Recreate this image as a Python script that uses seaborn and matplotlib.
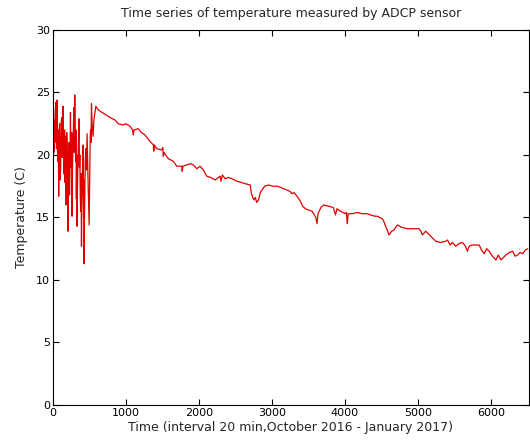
import numpy as np
import pandas as pd
import matplotlib
matplotlib.use("Agg")
import matplotlib.pyplot as plt
import seaborn as sns

# ======================
# Datos (índice de tiempo, temperatura en C)
# ======================
tiempo_ruido = [0, 6, 12, 18, 25, 32, 40, 48, 55, 60, 65, 72, 78, 84, 90, 97, 105,
                112, 120, 128, 137, 143, 150, 155, 160, 165, 172, 180, 188, 195,
                200, 206, 213, 220, 226, 232, 239, 245, 250, 256, 261, 267, 272,
                279, 285, 292, 298, 304, 310, 315, 320, 325, 330, 335, 340, 348,
                357, 362, 368, 374, 380, 385, 390, 395, 400, 406, 412, 416, 420,
                423, 426, 430, 435, 442, 450, 458, 467, 474, 480, 488, 495, 500,
                505, 510, 515, 521, 527, 535, 549, 560, 587]
temp_ruido = [20.4, 23.5, 20.2, 22.8, 21.0, 23.6, 24.2, 20.5, 24.4, 21.0, 19.5,
              22.0, 16.7, 21.5, 22.5, 18.0, 19.0, 22.6, 23.0, 19.8, 23.9, 20.5,
              18.5, 21.8, 22.0, 17.8, 21.5, 16.0, 21.8, 20.0, 17.5, 13.9, 19.5,
              21.0, 16.8, 18.5, 23.4, 20.0, 19.0, 21.8, 15.1, 18.8, 20.5, 22.0,
              23.8, 20.2, 24.8, 21.5, 19.5, 22.0, 16.5, 20.0, 14.3, 17.5, 19.0,
              21.0, 22.9, 19.0, 20.0, 16.5, 15.5, 18.5, 12.7, 15.8, 17.0, 19.8,
              20.8, 17.5, 15.0, 18.0, 11.3, 14.5, 16.5, 19.5, 20.5, 18.8, 21.7,
              19.5, 18.0, 16.0, 14.4, 16.8, 19.0, 21.5, 22.0, 21.0, 24.1, 22.5,
              21.5, 22.8, 23.9]

tiempo_suave = [620, 700, 780, 848, 893, 960, 1000, 1054, 1090, 1099, 1110, 1168,
                1210, 1260, 1300, 1328, 1374, 1380, 1390, 1420, 1489, 1505, 1511,
                1520, 1580, 1648, 1695, 1764, 1770, 1780, 1832, 1880, 1923, 1970,
                2015, 2060, 2107, 2160, 2221, 2290, 2300, 2320, 2358, 2400, 2450,
                2519, 2580, 2633, 2702, 2715, 2725, 2750, 2771, 2790, 2816, 2840,
                2862, 2900, 2953, 3010, 3068, 3120, 3159, 3200, 3242, 3275, 3300,
                3343, 3389, 3420, 3457, 3500, 3549, 3600, 3618, 3630, 3670, 3709,
                3777, 3840, 3870, 3890, 3938, 4007, 4020, 4030, 4045, 4099, 4170,
                4236, 4300, 4350, 4410, 4442, 4511, 4530, 4556, 4580, 4602, 4640,
                4671, 4717, 4780, 4854, 4940, 5014, 5040, 5060, 5106, 5140, 5174,
                5243, 5312, 5380, 5404, 5440, 5470, 5518, 5560, 5610, 5650, 5678,
                5700, 5747, 5838, 5870, 5907, 5940, 5975, 6020, 6067, 6100, 6136,
                6170, 6205, 6250, 6297, 6330, 6365, 6400, 6434, 6470, 6503]
temp_suave = [23.6, 23.3, 23.0, 22.8, 22.5, 22.4, 22.5, 22.3, 22.0, 21.6, 22.0, 22.1,
              21.8, 21.6, 21.3, 21.1, 20.8, 20.3, 20.8, 20.5, 20.4, 20.6, 19.9,
              20.2, 19.7, 19.5, 19.1, 19.1, 18.7, 19.1, 19.2, 19.3, 19.2, 18.9,
              19.1, 18.8, 18.3, 18.2, 18.0, 18.3, 17.9, 18.4, 18.1, 18.2, 18.1,
              17.9, 17.8, 17.7, 17.6, 17.0, 16.8, 16.4, 16.6, 16.2, 16.4, 17.0,
              17.2, 17.5, 17.6, 17.5, 17.5, 17.4, 17.3, 17.2, 17.1, 16.9, 17.0,
              16.7, 16.3, 15.9, 15.7, 15.6, 15.5, 15.0, 14.5, 15.3, 15.8, 16.0,
              15.9, 15.8, 15.2, 15.7, 15.5, 15.3, 15.4, 14.5, 15.3, 15.3, 15.4,
              15.3, 15.3, 15.2, 15.1, 15.1, 14.9, 14.7, 14.3, 14.0, 13.6, 13.9,
              14.0, 14.4, 14.2, 14.1, 14.1, 14.1, 13.9, 13.6, 13.9, 13.7, 13.5,
              13.1, 13.0, 13.1, 13.2, 12.8, 13.0, 12.7, 12.9, 13.0, 12.7, 12.3,
              12.7, 12.8, 12.8, 12.4, 12.1, 12.5, 12.3, 11.9, 11.6, 12.0, 11.6,
              11.8, 12.0, 12.2, 12.3, 11.9, 12.0, 12.2, 12.1, 12.4, 12.5]

df = pd.DataFrame({
    "tiempo": tiempo_ruido + tiempo_suave,
    "temperatura": temp_ruido + temp_suave,
})

# ======================
# Estilo tipo MATLAB
# ======================
sns.set_style("ticks")
plt.rcParams["font.family"] = ["DejaVu Sans"]
plt.rcParams["xtick.direction"] = "in"
plt.rcParams["ytick.direction"] = "in"

fig = plt.figure(figsize=(5.30, 4.47), dpi=100)
ax = fig.add_axes([0.1, 0.094, 0.898, 0.839])

sns.lineplot(data=df, x="tiempo", y="temperatura", color="#e00000",
             linewidth=0.9, estimator=None, sort=False, ax=ax)

ax.set_xlim(0, 6520)
ax.set_ylim(0, 30)
ax.set_xticks([0, 1000, 2000, 3000, 4000, 5000, 6000])
ax.set_yticks([0, 5, 10, 15, 20, 25, 30])
ax.tick_params(top=True, right=True, labelsize=8, length=4, width=0.8,
               colors="black", pad=2)
for s in ax.spines.values():
    s.set_color("black")
    s.set_linewidth(0.8)

ax.set_title("Time series of temperature measured by ADCP sensor", fontsize=9,
             pad=9)
ax.set_xlabel("Time (interval 20 min,October 2016 - January 2017)", fontsize=9,
              labelpad=2)
ax.set_ylabel("Temperature (C)", fontsize=9, labelpad=6)

fig.savefig("out.png", dpi=100)
